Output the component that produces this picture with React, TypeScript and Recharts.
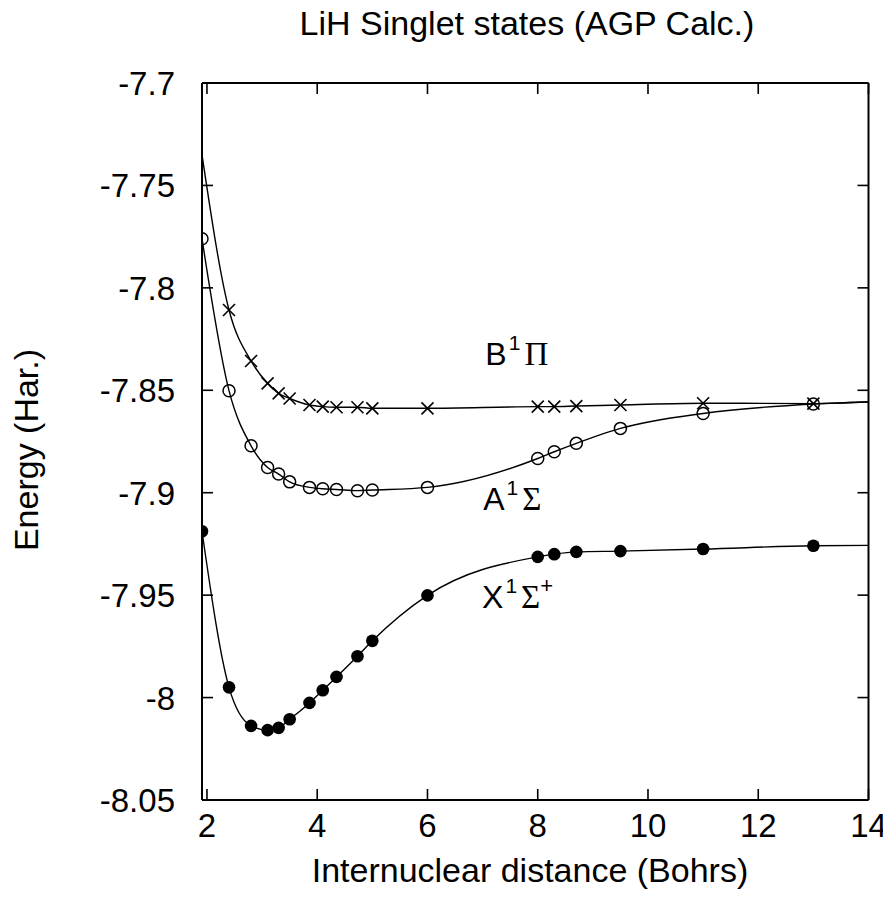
import React from "react";
import { ComposedChart, Line, Scatter, XAxis, YAxis, ReferenceDot, ReferenceLine } from "recharts";

// X 1Sigma+ (filled circles)
const groundR = [1.91, 2.4, 2.8, 3.1, 3.3, 3.5, 3.86, 4.1, 4.35, 4.73, 5.0, 6.0, 8.0, 8.3, 8.7, 9.5, 11.0, 13.0];
const groundE = [-7.9188, -7.995, -8.0138, -8.0159, -8.0148, -8.0106, -8.0026, -7.9964, -7.9899, -7.9798, -7.9723, -7.9501, -7.9313, -7.930, -7.9289, -7.9285, -7.9275, -7.9259];

// A 1Sigma (open circles)
const aR = [1.91, 2.4, 2.8, 3.1, 3.3, 3.5, 3.86, 4.1, 4.35, 4.73, 5.0, 6.0, 8.0, 8.3, 8.7, 9.5, 11.0, 13.0];
const aE = [-7.776, -7.8502, -7.8771, -7.8877, -7.8909, -7.8947, -7.8974, -7.8981, -7.8984, -7.899, -7.8987, -7.8974, -7.8833, -7.88, -7.8759, -7.8686, -7.8613, -7.8567];

// B 1Pi (crosses)
const bR = [2.4, 2.8, 3.1, 3.3, 3.5, 3.86, 4.1, 4.35, 4.73, 5.0, 6.0, 8.0, 8.3, 8.7, 9.5, 11.0, 13.0];
const bE = [-7.8108, -7.8357, -7.8466, -7.8515, -7.854, -7.8572, -7.858, -7.8583, -7.8583, -7.8588, -7.8588, -7.858, -7.858, -7.8577, -7.8572, -7.8563, -7.8565];

// fitted curves: extra ends
const bStart = [1.91, -7.735];
const groundEnd = [14, -7.9257];
const aEnd = [14, -7.8556];
const bEnd = [14, -7.8558];

const xDomain = [1.91, 14];
const yDomain = [-8.05, -7.7];
const xTicks = [2, 4, 6, 8, 10, 12, 14];
const yTicks = [-8.05, -8, -7.95, -7.9, -7.85, -7.8, -7.75, -7.7];

const labelR = [7.05, 7.01, 6.99];
const labelE = [-7.8377, -7.9084, -7.9563];

const pts = (r: number[], e: number[]) => r.map((v, i) => ({ r: v, e: e[i] }));

const groundPts = pts(groundR, groundE);
const aPts = pts(aR, aE);
const bPts = pts(bR, bE);
const groundCurve = [...groundPts, { r: groundEnd[0], e: groundEnd[1] }];
const aCurve = [...aPts, { r: aEnd[0], e: aEnd[1] }];
const bCurve = [{ r: bStart[0], e: bStart[1] }, ...bPts, { r: bEnd[0], e: bEnd[1] }];

const FONT = "'Liberation Sans', Arial, Helvetica, sans-serif";
const SERIF = "'Liberation Serif', 'DejaVu Serif', serif";
const W = 883;
const H = 896;
const TICK = 11;
const X_GAP = 37;
const Y_GAP = 27;

function BottomTick(props: any) {
  const { x, y, payload } = props;
  return (
    <text x={x} y={y} textAnchor="middle" fontSize={33} fontFamily={FONT} fill="#000">
      {payload.value}
    </text>
  );
}

function LeftTick(props: any) {
  const { x, y, payload } = props;
  return (
    <text x={x} y={y + 12} textAnchor="end" fontSize={33} fontFamily={FONT} fill="#000">
      {payload.value}
    </text>
  );
}

// inward tick marks at both ends of a full-height / full-width reference line
const VTicks = (p: any) => {
  const x = p.x1;
  const top = Math.min(p.y1, p.y2);
  const bot = Math.max(p.y1, p.y2);
  return (
    <g stroke="#000" strokeWidth={1.6}>
      <line x1={x} x2={x} y1={bot} y2={bot - TICK} />
      <line x1={x} x2={x} y1={top} y2={top + TICK} />
    </g>
  );
};
const HTicks = (p: any) => {
  const y = p.y1;
  const l = Math.min(p.x1, p.x2);
  const r = Math.max(p.x1, p.x2);
  return (
    <g stroke="#000" strokeWidth={1.6}>
      <line x1={l} x2={l + TICK} y1={y} y2={y} />
      <line x1={r} x2={r - TICK} y1={y} y2={y} />
    </g>
  );
};

const FilledDot = (p: any) => <circle cx={p.cx} cy={p.cy} r={6.3} fill="#000" />;
const OpenDot = (p: any) => <circle cx={p.cx} cy={p.cy} r={6} fill="none" stroke="#000" strokeWidth={1.5} />;
const Cross = (p: any) => {
  const s = 6;
  return (
    <g stroke="#000" strokeWidth={1.6}>
      <line x1={p.cx - s} y1={p.cy - s} x2={p.cx + s} y2={p.cy + s} />
      <line x1={p.cx - s} y1={p.cy + s} x2={p.cx + s} y2={p.cy - s} />
    </g>
  );
};

function StateLabel(main: string, greek: string, plus: boolean) {
  return (p: any) => (
    <text x={p.cx} y={p.cy} fontSize={32} fontFamily={FONT} fill="#000">
      {main}
      <tspan dx={2} dy={-15} fontSize={21}>1</tspan>
      <tspan dx={4} dy={15} fontFamily={SERIF} fontSize={33}>{greek}</tspan>
      {plus ? <tspan dx={0} dy={-15} fontSize={22}>+</tspan> : null}
    </text>
  );
}

export default function App() {
  return (
    <div style={{ position: "relative", width: W, height: H }}>
      <ComposedChart width={W} height={H} margin={{ top: 75, right: 22.5, bottom: 44, left: 74 }}>
        <XAxis
          dataKey="r"
          type="number"
          domain={xDomain}
          allowDataOverflow
          ticks={xTicks}
          height={60}
          tickSize={0}
          tickMargin={X_GAP}
          tick={BottomTick}
          tickLine={false}
          axisLine={{ stroke: "#000", strokeWidth: 2 }}
        />
        <YAxis
          dataKey="e"
          type="number"
          domain={yDomain}
          allowDataOverflow
          ticks={yTicks}
          width={120}
          tickSize={0}
          tickMargin={Y_GAP}
          tick={LeftTick}
          tickLine={false}
          axisLine={{ stroke: "#000", strokeWidth: 2 }}
        />
        {/* top and right frame */}
        <ReferenceLine y={yDomain[1]} stroke="#000" strokeWidth={2} />
        <ReferenceLine x={xDomain[1]} stroke="#000" strokeWidth={2} />
        {xTicks.map((t) => (
          <ReferenceLine key={"xt" + t} x={t} shape={VTicks} />
        ))}
        {yTicks.map((t) => (
          <ReferenceLine key={"yt" + t} y={t} shape={HTicks} />
        ))}
        <Line data={bCurve} dataKey="e" type="monotone" dot={false} stroke="#000" strokeWidth={1.4} isAnimationActive={false} />
        <Line data={aCurve} dataKey="e" type="monotone" dot={false} stroke="#000" strokeWidth={1.4} isAnimationActive={false} />
        <Line data={groundCurve} dataKey="e" type="monotone" dot={false} stroke="#000" strokeWidth={1.4} isAnimationActive={false} />
        <Scatter data={bPts} dataKey="e" shape={Cross} isAnimationActive={false} />
        <Scatter data={aPts} dataKey="e" shape={OpenDot} isAnimationActive={false} />
        <Scatter data={groundPts} dataKey="e" shape={FilledDot} isAnimationActive={false} />
        <ReferenceDot x={labelR[0]} y={labelE[0]} r={0} shape={StateLabel("B", "Π", false)} />
        <ReferenceDot x={labelR[1]} y={labelE[1]} r={0} shape={StateLabel("A", "Σ", false)} />
        <ReferenceDot x={labelR[2]} y={labelE[2]} r={0} shape={StateLabel("X", "Σ", true)} />
      </ComposedChart>
      <svg
        width={W}
        height={H + 8}
        style={{ position: "absolute", left: 0, top: -8, pointerEvents: "none" }}
      >
        <text x={519} y={35} textAnchor="middle" fontSize={34} fontFamily={FONT} fill="#000">
          LiH Singlet states (AGP Calc.)
        </text>
        <text x={522} y={882} textAnchor="middle" fontSize={34} fontFamily={FONT} fill="#000">
          Internuclear distance (Bohrs)
        </text>
        <text
          x={30}
          y={450}
          textAnchor="middle"
          fontSize={34}
          fontFamily={FONT}
          fill="#000"
          transform="rotate(-90 30 450)"
        >
          Energy (Har.)
        </text>
      </svg>
    </div>
  );
}
